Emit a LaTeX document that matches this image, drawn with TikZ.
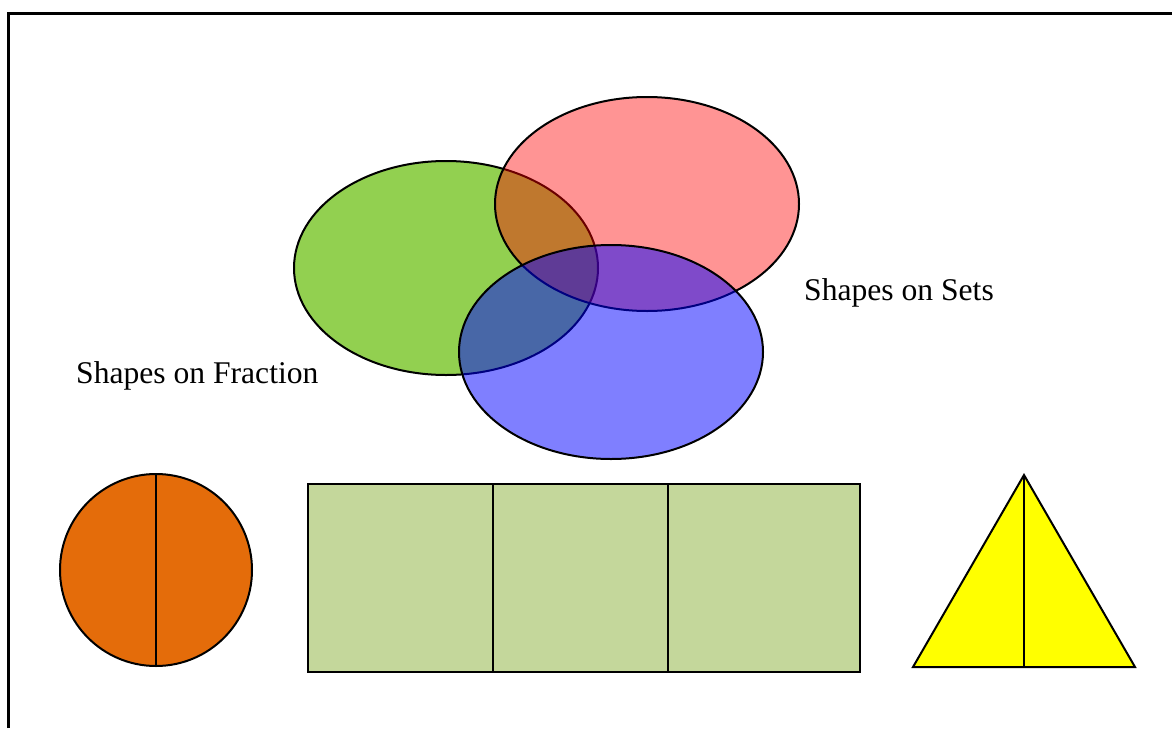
\documentclass[tikz,border=0pt]{standalone}
\usepackage{fontspec}
\setmainfont{Liberation Serif}
\definecolor{setgreen}{HTML}{92D050}
\definecolor{setred}{RGB}{255,0,0}
\definecolor{setblue}{RGB}{0,0,255}
\definecolor{fracorange}{HTML}{E46C0A}
\definecolor{fracgreen}{HTML}{C4D79B}
\definecolor{fracyellow}{RGB}{255,255,0}
\tikzset{
  shapeline/.style={draw=black, line width=2pt},
  label text/.style={font=\fontsize{31.6}{38}\selectfont, inner sep=0pt, anchor=base west},
}
\begin{document}
\begin{tikzpicture}[x=1pt,y=-1pt]
\useasboundingbox (0,0) rectangle (1172,728);
% frame (only left and top edges visible)
\draw[line width=3pt] (8.5,728) -- (8.5,13.5) -- (1172,13.5);
% Venn ellipses
\draw[shapeline, fill=setgreen] (446,268) ellipse [x radius=152, y radius=107];
\draw[shapeline, fill=setred, fill opacity=0.42] (647,204) ellipse [x radius=152, y radius=107];
\draw[shapeline, fill=setblue, fill opacity=0.5] (611,352) ellipse [x radius=152, y radius=107];
% labels
\node[label text] (sets) at (804,300) {Shapes on Sets};
\node[label text] (frac) at (76,383) {Shapes on Fraction};
% circle
\draw[shapeline, fill=fracorange] (156,570) circle [radius=96];
\draw[shapeline] (156,474) -- (156,666);
% rectangle
\draw[shapeline, fill=fracgreen] (308,484) rectangle (860,672);
\draw[shapeline] (493,484) -- (493,672);
\draw[shapeline] (668,484) -- (668,672);
% triangle
\draw[shapeline, fill=fracyellow] (1024,475) -- (1135,667) -- (913,667) -- cycle;
\draw[shapeline] (1024,475) -- (1024,667);
\end{tikzpicture}
\end{document}
